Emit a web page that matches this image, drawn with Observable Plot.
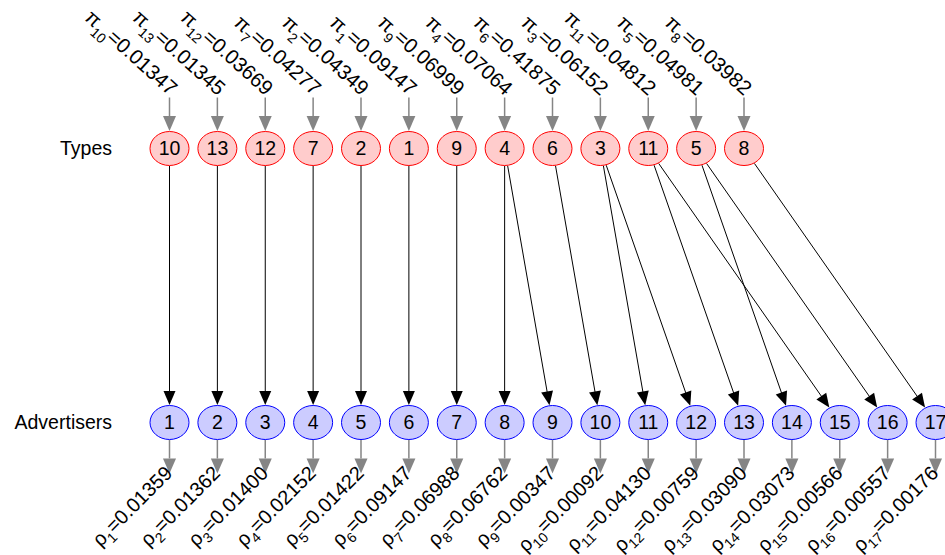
<!DOCTYPE html>
<html><head><meta charset="utf-8">
<script src="https://cdn.jsdelivr.net/npm/d3@7"></script>
<script src="https://cdn.jsdelivr.net/npm/@observablehq/plot@0.6"></script>
<style>html,body{margin:0;padding:0;background:#fff}svg{display:block}</style>
</head><body><div id="chart"></div>
<script>
// ---- data ----
const typeOrder = [10, 13, 12, 7, 2, 1, 9, 4, 6, 3, 11, 5, 8];
const piValues = ["0.01347","0.01345","0.03669","0.04277","0.04349","0.09147","0.06999","0.07064","0.41875","0.06152","0.04812","0.04981","0.03982"];
const advertiserIds = [1,2,3,4,5,6,7,8,9,10,11,12,13,14,15,16,17];
const rhoValues = ["0.01359","0.01362","0.01400","0.02152","0.01422","0.09147","0.06988","0.06762","0.00347","0.00092","0.04130","0.00759","0.03090","0.03073","0.00566","0.00557","0.00176"];
const edgeFromType = [10, 13, 12, 7, 2, 1, 9, 4, 4, 6, 3, 3, 11, 5, 11, 5, 8];
const edgeToAdvertiser = [1, 2, 3, 4, 5, 6, 7, 8, 9, 10, 11, 12, 13, 14, 15, 16, 17];
const rowLabels = ["Types", "Advertisers"];

// ---- layout ----
const X_DOMAIN = [0, 16], X_RANGE = [169, 935];
const Y_DOMAIN = [0, 1], Y_RANGE = [148, 422];
const sx = d3.scaleLinear(X_DOMAIN, X_RANGE);
const sy = d3.scaleLinear(Y_DOMAIN, Y_RANGE);
const RX = 19.5, RY = 17, HEAD = 14, GRAY = "#858585";

const ellipse = {
  draw(ctx) {
    const k = 0.5523, rx = RX, ry = RY;
    ctx.moveTo(rx, 0);
    ctx.bezierCurveTo(rx, ry * k, rx * k, ry, 0, ry);
    ctx.bezierCurveTo(-rx * k, ry, -rx, ry * k, -rx, 0);
    ctx.bezierCurveTo(-rx, -ry * k, -rx * k, -ry, 0, -ry);
    ctx.bezierCurveTo(rx * k, -ry, rx, -ry * k, rx, 0);
    ctx.closePath();
  }
};

const types = typeOrder.map((id, i) => ({id, i, level: 0, label: `π${id}=${piValues[i]}`}));
const advs = advertiserIds.map((id, i) => ({id, i, level: 1, label: `ρ${id}=${rhoValues[i]}`}));

function bnd(ux, uy) { return 1 / Math.hypot(ux / RX, uy / RY); }
const edges = edgeFromType.map((t, k) => {
  const i1 = typeOrder.indexOf(t), i2 = advertiserIds.indexOf(edgeToAdvertiser[k]);
  const p1 = [sx(i1), sy(0)], p2 = [sx(i2), sy(1)];
  const dx = p2[0] - p1[0], dy = p2[1] - p1[1], L = Math.hypot(dx, dy);
  const ux = dx / L, uy = dy / L, b = bnd(ux, uy) + 0.5;
  const s = [p1[0] + ux * b, p1[1] + uy * b];
  const tip = [p2[0] - ux * b, p2[1] - uy * b];
  const base = [tip[0] - ux * (HEAD - 2), tip[1] - uy * (HEAD - 2)];
  return {
    x1: sx.invert(s[0]), y1: sy.invert(s[1]),
    x2: sx.invert(base[0]), y2: sy.invert(base[1]),
    tx: sx.invert(tip[0]), ty: sy.invert(tip[1]),
    angle: Math.atan2(ux, -uy) * 180 / Math.PI
  };
});

// gray stubs (data units, via the scale's inverse)
const topStart = sy.invert(97), topTip = sy.invert(148 - RY - 0.5);
const botStart = sy.invert(422 + RY + 0.5), botTip = sy.invert(473);
const topLabelY = sy.invert(96), botLabelY = sy.invert(474);
const headData = sy.invert(HEAD + 1) - sy.invert(0);

const chart = Plot.plot({
  width: 945, height: 555, margin: 0,
  x: {domain: X_DOMAIN, range: X_RANGE, axis: null},
  y: {domain: Y_DOMAIN, range: Y_RANGE, axis: null},
  style: {fontFamily: "'Liberation Sans', Arial, sans-serif", fontSize: "19px", background: "white", color: "black"},
  marks: [
    // black edges
    Plot.link(edges, {x1: "x1", y1: "y1", x2: "x2", y2: "y2", stroke: "black", strokeWidth: 1}),
    Plot.vector(edges, {x: "tx", y: "ty", rotate: "angle", length: HEAD, anchor: "end", shape: "spike", r: 6, fill: "black", stroke: "none"}),
    // gray input arrows to types
    Plot.link(types, {x1: "i", x2: "i", y1: () => topStart, y2: () => topTip - headData, stroke: GRAY, strokeWidth: 1.5}),
    Plot.vector(types, {x: "i", y: () => topTip, rotate: 180, length: HEAD + 1, anchor: "end", shape: "spike", r: 6.5, fill: GRAY, stroke: "none"}),
    // gray output arrows from advertisers
    Plot.link(advs, {x1: "i", x2: "i", y1: () => botStart, y2: () => botTip - headData, stroke: GRAY, strokeWidth: 1.5}),
    Plot.vector(advs, {x: "i", y: () => botTip, rotate: 180, length: HEAD + 1, anchor: "end", shape: "spike", r: 6.5, fill: GRAY, stroke: "none"}),
    // nodes
    Plot.dot(types, {x: "i", y: "level", symbol: ellipse, fill: "#ffcccc", stroke: "#ff0000", strokeWidth: 1}),
    Plot.dot(advs, {x: "i", y: "level", symbol: ellipse, fill: "#ccccff", stroke: "#0000ff", strokeWidth: 1}),
    Plot.text(types, {x: "i", y: "level", text: d => String(d.id), fill: "black", fontSize: 19.5}),
    Plot.text(advs, {x: "i", y: "level", text: d => String(d.id), fill: "black", fontSize: 19.5}),
    // row labels
    Plot.text(rowLabels, {x: () => -1.2, y: (d, i) => i, text: d => d, textAnchor: "end", fontSize: 19.5, fill: "black"}),
    // value labels
    Plot.text(types, {x: "i", y: () => topLabelY, text: "label", rotate: 42, textAnchor: "end", lineAnchor: "bottom", dx: 0, fontSize: 20.5, fill: "black"}),
    Plot.text(advs, {x: "i", y: () => botLabelY, text: "label", rotate: -45, textAnchor: "end", lineAnchor: "bottom", dx: 4, fontSize: 20, fill: "black"})
  ]
});

// subscripts
d3.select(chart).selectAll("text").each(function () {
  const m = this.textContent.match(/^([πρ])(\d+)=(.+)$/);
  if (!m) return;
  const t = d3.select(this);
  const sub = m[1] === "π" ? 7 : 6;
  t.text(null);
  t.append("tspan").text(m[1]);
  t.append("tspan").attr("font-size", "14px").attr("dy", sub + "px").text(m[2]);
  t.append("tspan").attr("dy", -sub + "px").text("=" + m[3]);
});

document.getElementById("chart").appendChild(chart);
</script>
</body></html>
